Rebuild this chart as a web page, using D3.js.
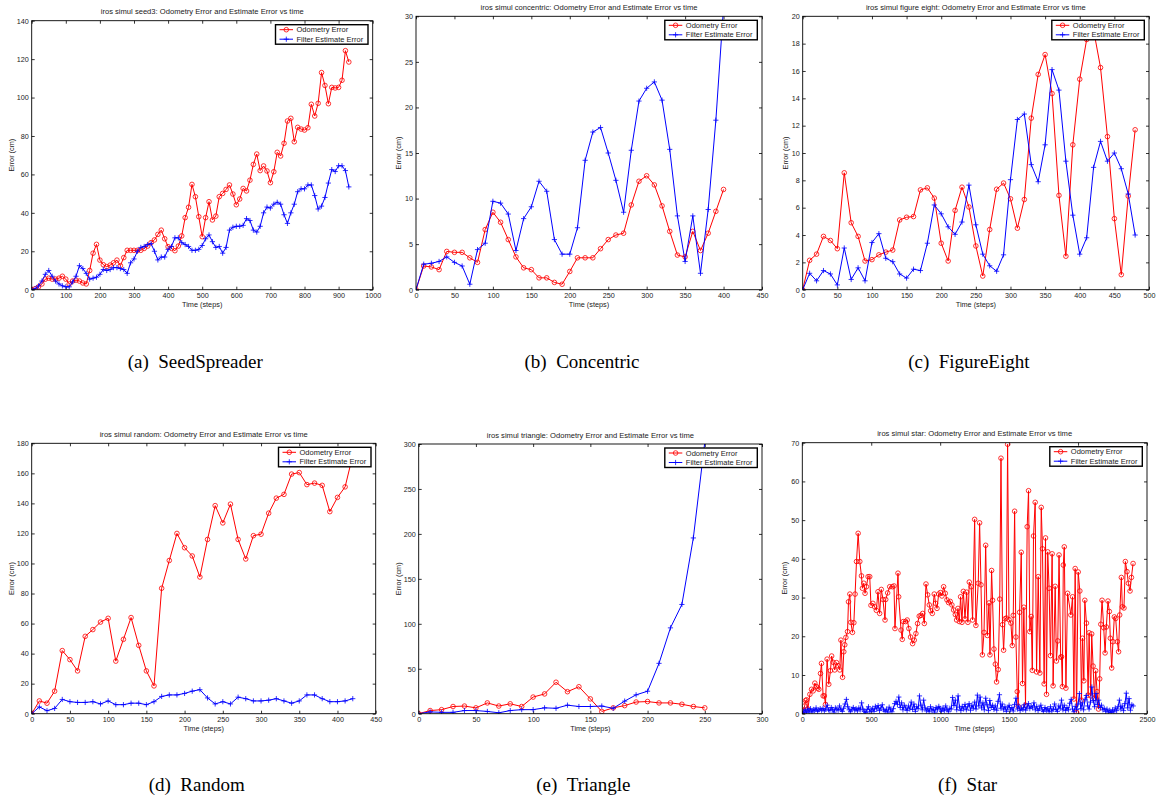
<!DOCTYPE html>
<html>
<head>
<meta charset="utf-8">
<script src="https://cdn.jsdelivr.net/npm/d3@7"></script>
<style>
  body { margin: 0; background: #fff; }
  svg { display: block; }
  .tick line { stroke: #000; stroke-width: 0.8; }
  .tick text { font-family: "Liberation Sans", Arial, sans-serif; font-size: 7.2px; fill: #222; }
  .lbl { font-family: "Liberation Sans", Arial, sans-serif; font-size: 7.3px; fill: #222; }
  .ttl { font-family: "Liberation Sans", Arial, sans-serif; font-size: 7.6px; fill: #222; }
  .cap { font-family: "Liberation Serif", "Times New Roman", serif; font-size: 19px; fill: #000; }
</style>
</head>
<body>
<svg width="1159" height="797"></svg>
<script>
// values sampled every 10 steps unless given as [time, value]
const seedOdo = [0,0.5,1.5,3,5.5,6,5.5,5.5,6,7,
  5.5,3,4.5,5,4.5,3.5,3,10,19,23.6,
  15.4,13,12,12.8,14,15.4,12.5,16.7,20.5,20.5,
  20.5,20.5,20.5,21.5,22.7,24.5,25.9,28.8,31,26.5,
  22.4,21.5,20.3,22.7,28,37.5,42.9,54.8,48.4,38,
  27.6,37.5,45.8,36.3,38.3,48.4,50.1,52.2,54.5,49.8,
  44.2,47.2,52.7,51.4,57,65.2,70.6,62,64.4,61.8,
  55.7,61.4,71.5,69.6,76.2,87.8,89.2,77,84.5,83.6,
  83.1,84.3,96.5,90.4,97,113,106.3,96.8,105.3,105,
  105.3,109,124.4,118.5]
const seedFilt = [0,0.5,2,4.5,8,10,7,4.5,3,2,
  1.5,1.5,4,7,12.5,11,8.5,5.5,6,6.5,
  8,10.5,10,10.5,11.5,11.5,11,10.5,8.5,14,
  16,20,22,22.5,23.5,24,20,15.5,17,17,
  21,22.5,27,27,24.5,23.5,22.5,20.5,20.5,21,
  23,26.5,28.5,25,22,22.5,19,22,31,32.5,
  33,33,33.5,37,36,31,30,33,40,43,
  42.5,44.5,45.5,44.5,39,34.5,40,44.5,51,52.5,
  52.5,54.5,54.5,49,42,43.5,48,55.5,62.5,61.5,
  64.5,64.5,62,53.5]

const concOdo = [0,2.6,2.5,2.2,4.2,4.1,4.1,3.5,3.0,6.6,
  8.5,7.4,5.5,3.6,2.4,2.2,1.3,1.3,0.8,0.6,
  2.0,3.5,3.5,3.5,4.5,5.5,6.0,6.2,9.3,11.9,
  12.5,11.5,9.2,6.4,3.8,3.6,6.4,4.3,6.2,8.6,
  11.0]
const concFilt = [0,2.8,2.9,3.1,3.6,3.0,2.6,0.6,4.4,5.1,
  9.7,9.5,8.3,4.3,7.8,9.1,11.9,10.8,5.5,3.9,
  3.9,6.8,14.2,17.3,17.8,15.0,12.0,8.5,15.3,20.7,
  22.1,22.8,20.8,15.4,8.1,3.1,8.1,1.8,8.8,18.6,
  31]

const eightOdo = [0,2.15,2.6,3.9,3.6,3.0,8.55,4.9,3.9,2.1,
  2.2,2.55,2.75,2.9,5.1,5.3,5.35,7.3,7.45,6.7,
  3.4,2.1,5.8,7.5,6.05,3.2,1.0,4.4,7.35,7.8,
  6.65,4.5,6.6,12.55,15.75,17.2,14.35,6.9,2.45,10.6,
  15.4,18.3,19,16.25,11.2,5.2,1.1,6.85,11.7]
const eightFilt = [0,1.2,0.65,1.4,1.15,0.35,3.05,0.75,1.6,0.65,
  3.45,4.1,2.3,2.05,1.15,0.85,1.5,1.4,3.4,6.2,
  5.55,4.6,4.05,4.95,7.65,4.75,2.6,1.75,1.35,2.55,
  8.05,12.45,12.85,9.15,7.9,10.6,16.1,14.6,9.4,5.45,
  2.6,3.8,8.95,10.85,9.4,10.0,8.85,7.0,4.0]

const randOdo = [0,8.5,7,15,42,36,28.5,51.5,56,61,
  63.5,35,49.5,64,45.5,28.5,18.5,83.5,102,120,
  110.5,105,91,116,138.5,127,139.5,116,103,118.5,
  119.5,133.5,143.5,146,159.5,160.5,152.5,153.5,152,134.5,
  144,151,172]
const randFilt = [0,4.5,2,3.5,9.5,8,7.5,7.5,8,6.5,
  8.5,6,6,7,7,6,8,11.5,12.5,12.5,
  13.5,15,16,10.5,6.5,8,6.5,11,10,8.5,
  8.5,9,10,8.5,7,8.5,12.5,12.5,10,8,
  8,8.5,10]

const triOdo = [0,3.5,4.5,8,8.5,6.5,12,8.5,11,8,
  18.5,22,35,24.5,30,16.5,2.5,6.5,9,13,
  13.5,12,12,10.5,8,6.5]
const triFilt = [0,2,1.5,1.5,3.5,3.5,2.5,1,3.5,4.5,
  4.5,6.5,6,9.5,8,8,8.5,6,14,21,
  25,56,95.5,121.5,195.5,302]

const starOdo = [[0,0],[7,0.8],[17,2],[24,3.4],[31,3.6],[40,1.2],[55,5],[67,6.3],[79,5.9],[91,7.9],
  [103,7],[112,6.6],[120,6.3],[132,10.4],[139,13],[151,4.6],[160,4.6],[168,2.4],[180,14.1],[192,7.6],
  [204,11.1],[213,14.9],[223,13.3],[235,11.3],[248,13.2],[260,12.4],[272,11.3],[280,19],[292,9.4],[301,16],
  [308,17.8],[316,19.7],[328,21.2],[335,28.9],[345,30.9],[352,23.6],[364,21],[374,23.5],[383,30.9],[393,39.3],
  [405,46.6],[417,39.3],[429,35.6],[436,32.4],[446,33.7],[455,31.1],[465,32.8],[477,35.4],[489,35.4],[498,28],
  [512,28.5],[525,27.6],[537,26.7],[549,31.5],[561,25.9],[573,32.1],[585,29.5],[600,24.2],[605,29.5],[619,31.2],
  [634,32.8],[653,32.8],[665,33],[672,22],[694,36.3],[699,30.2],[716,21.6],[725,19.2],[732,23.8],[749,23.8],
  [761,24.2],[773,22],[785,19.8],[800,18.1],[812,19],[824,20.7],[836,23.3],[848,25.2],[861,25.4],[873,25.9],
  [885,23.3],[897,33.5],[909,30.7],[921,28.1],[931,26.6],[943,25.9],[957,30.9],[967,28.5],[977,27.2],[989,30.9],
  [1001,31.3],[1013,30.4],[1025,32.8],[1037,31.1],[1049,29.4],[1061,28.7],[1073,29],[1085,28.1],[1097,26.8],[1110,25.6],
  [1119,24.2],[1129,27.2],[1139,23.8],[1148,30.2],[1158,23.6],[1168,31.6],[1180,24.5],[1192,31.4],[1201,23.6],[1211,34],
  [1225,32.8],[1235,24.2],[1250,50.2],[1259,22.8],[1276,33.7],[1286,49.3],[1296,33.3],[1306,15.2],[1318,21],[1330,43.5],
  [1342,20.2],[1354,28.6],[1361,15.2],[1373,37],[1380,29.3],[1390,16.7],[1400,12.8],[1409,8.2],[1421,11.4],[1432,29.6],
  [1441,66],[1452,23],[1460,16.4],[1470,24.5],[1480,24.7],[1489,69.6],[1499,24.3],[1513,23.4],[1523,17.6],[1530,25.4],
  [1540,52.3],[1549,19.8],[1559,5.7],[1566,1.9],[1576,26.2],[1588,41.7],[1597,7.8],[1607,27.5],[1619,2.2],[1631,48.3],
  [1641,57.6],[1650,21.2],[1660,25.1],[1668,11.2],[1677,45.9],[1689,54.6],[1699,10.8],[1711,35.4],[1723,10.5],[1733,53.3],
  [1742,42.6],[1754,7.7],[1764,45.4],[1771,5],[1780,41.8],[1790,32.4],[1800,15],[1812,41.3],[1819,7.2],[1834,32.9],
  [1843,13.6],[1853,18.8],[1862,41],[1874,14.6],[1880,14.7],[1886,7],[1893,38.4],[1900,43.1],[1912,6.6],[1924,31.1],
  [1948,25.5],[1960,30.2],[1970,3.8],[1979,37.5],[1989,0.3],[2001,36.6],[2013,31.7],[2025,3.5],[2032,19.5],[2042,8.5],
  [2049,29.3],[2061,23.4],[2073,4.8],[2080,20.9],[2092,4.6],[2099,20.6],[2109,12.3],[2119,4],[2128,11.1],[2138,5.7],
  [2148,1.2],[2157,9],[2165,23.1],[2174,29.3],[2186,22.2],[2196,15.7],[2205,22.4],[2217,29.1],[2227,26.4],[2234,19.5],
  [2244,11.8],[2253,18.6],[2263,25],[2273,24.6],[2285,18.6],[2294,16],[2302,25.5],[2314,35.2],[2321,27.6],[2333,27.3],
  [2343,39.3],[2355,36.7],[2365,33.7],[2377,31.7],[2387,35.2],[2399,38.8]]
const starFilt = [0,0.5,1.0,0.3,1.2,0.5,1.3,0.4,1.1,0.8,
  1.5,0.6,1.0,1.3,0.9,1.4,0.7,1.2,2.2,1.0,
  0.8,1.6,1.1,0.4,1.5,1.2,0.9,2.0,1.1,0.6,
  1.4,2.5,3.7,1.8,1.0,0.5,1.2,1.6,0.9,1.3,
  0.7,1.5,1.0,2.8,1.2,0.6,0.3,1.1,1.8,0.5,
  1.0,1.4,0.6,1.9,1.2,2.1,0.8,1.5,2.3,1.0,
  0.6,1.2,0.4,1.7,1.0,0.5,1.3,2.6,3.2,2.4,
  4.3,1.6,2.8,1.0,2.2,1.5,0.8,2.0,1.2,3.0,
  1.1,2.5,0.6,1.8,1.3,4.6,2.2,1.0,3.5,1.5,
  0.7,1.3,0.5,1.8,0.9,1.2,0.4,1.6,1.0,1.9,
  1.3,0.6,1.5,0.8,2.0,1.1,0.5,1.4,1.2,4.2,
  2.1,3.5,1.0,4.6,1.7,0.8,1.9,1.2,2.4,1.0,
  1.8,2.6,0.9,2.2,1.4,3.0,1.2,4.8,2.0,4.3,
  1.5,2.8,1.0,4.0,2.3,0.8,3.4,1.6,2.2,1.1,
  2.0,0.9,3.2,4.9,1.4,2.5,1.0,1.8,0.6,1.5,
  2.2,1.0,1.6,0.7,2.4,4.0,1.2,2.0,0.8,1.5,
  1.1,2.3,0.9,1.7,2.6,1.3,2.0,1.5,2.8,1.0,
  1.9,0.8,1.4,2.2,1.0,0.6,1.6,0.9,1.3,0.5,
  1.8,0.7,1.2,2.5,1.1,0.6,2.0,1.4,3.5,1.0,
  2.2,0.8,1.6,1.0,2.7,3.7,1.2,0.5,1.9,1.1,
  2.5,5.2,1.3,2.8,1.0,3.6,4.7,2.0,1.2,3.0,
  6.9,3.4,1.8,5.2,2.4,3.5,1.6,2.2,1.0,1.4,
  0.6,1.2,0.4,0.9,0.3,1.0,0.5,1.5,0.8,1.8,
  3.5,1.2,2.0,0.8,2.6,5.3,1.5,3.9,0.9,2.3,
  2.0]

const legendLabels = ['Odometry Error', 'Filter Estimate Error']
const step = 10
const withTime = vals => vals.map((v, i) => [i * step, v])

const panels = [
  {name: 'seed3', caption: 'SeedSpreader', tag: '(a)', L: 31.7, R: 372.7, T: 20.7, B: 289.7,
   xMax: 1000, xStep: 100, yMax: 140, yStep: 20, odo: withTime(seedOdo), filt: withTime(seedFilt)},
  {name: 'concentric', caption: 'Concentric', tag: '(b)', L: 416, R: 762, T: 16.3, B: 289.7,
   xMax: 450, xStep: 50, yMax: 30, yStep: 5, odo: withTime(concOdo), filt: withTime(concFilt)},
  {name: 'figure eight', caption: 'FigureEight', tag: '(c)', L: 802.7, R: 1149, T: 16.3, B: 289.7,
   xMax: 500, xStep: 50, yMax: 20, yStep: 2, odo: withTime(eightOdo), filt: withTime(eightFilt)},
  {name: 'random', caption: 'Random', tag: '(d)', L: 31.7, R: 375.7, T: 443.3, B: 713.7,
   xMax: 450, xStep: 50, yMax: 180, yStep: 20, odo: withTime(randOdo), filt: withTime(randFilt)},
  {name: 'triangle', caption: 'Triangle', tag: '(e)', L: 418.7, R: 762, T: 444, B: 713.7,
   xMax: 300, xStep: 50, yMax: 300, yStep: 50, odo: withTime(triOdo), filt: withTime(triFilt)},
  {name: 'star', caption: 'Star', tag: '(f)', L: 802.3, R: 1147, T: 442.7, B: 713.7,
   xMax: 2500, xStep: 500, yMax: 70, yStep: 10, odo: starOdo, filt: withTime(starFilt)}
]

const svg = d3.select('svg')
const RED = '#ff0000', BLUE = '#0000ff'
const plus = 'M-2.6,0H2.6M0,-2.6V2.6'

const drawPanel = (p, i) => {
  const x = d3.scaleLinear().domain([0, p.xMax]).range([p.L, p.R])
  const y = d3.scaleLinear().domain([0, p.yMax]).range([p.B, p.T])
  const xt = d3.range(0, p.xMax + p.xStep / 2, p.xStep)
  const yt = d3.range(0, p.yMax + p.yStep / 2, p.yStep)
  const g = svg.append('g')

  g.append('clipPath').attr('id', 'clip' + i)
    .append('rect').attr('x', p.L).attr('y', p.T).attr('width', p.R - p.L).attr('height', p.B - p.T)

  const axes = [
    [d3.axisBottom(x).tickValues(xt), `translate(0,${p.B})`, true],
    [d3.axisTop(x).tickValues(xt), `translate(0,${p.T})`, false],
    [d3.axisLeft(y).tickValues(yt), `translate(${p.L},0)`, true],
    [d3.axisRight(y).tickValues(yt), `translate(${p.R},0)`, false]
  ]
  axes.forEach(([ax, tr, labels]) => {
    ax.tickSizeInner(-3).tickSizeOuter(0).tickPadding(3)
      .tickFormat(labels ? d3.format('d') : () => '')
    const a = g.append('g').attr('transform', tr).call(ax)
    a.select('.domain').remove()
  })

  const plot = g.append('g').attr('clip-path', `url(#clip${i})`)
  const line = d3.line().x(d => x(d[0])).y(d => y(d[1]))

  plot.append('path').datum(p.odo).attr('d', line)
    .attr('fill', 'none').attr('stroke', RED).attr('stroke-width', 1)
  plot.selectAll('circle').data(p.odo).enter().append('circle')
    .attr('cx', d => x(d[0])).attr('cy', d => y(d[1])).attr('r', 2.3)
    .attr('fill', 'none').attr('stroke', RED).attr('stroke-width', 0.8)

  plot.append('path').datum(p.filt).attr('d', line)
    .attr('fill', 'none').attr('stroke', BLUE).attr('stroke-width', 1)
  plot.selectAll('path.mk').data(p.filt).enter().append('path').attr('class', 'mk')
    .attr('transform', d => `translate(${x(d[0])},${y(d[1])})`).attr('d', plus)
    .attr('fill', 'none').attr('stroke', BLUE).attr('stroke-width', 0.8)

  g.append('rect').attr('x', p.L).attr('y', p.T).attr('width', p.R - p.L).attr('height', p.B - p.T)
    .attr('fill', 'none').attr('stroke', '#000').attr('stroke-width', 0.9)

  // legend
  const lw = 92.5, lh = 19.5
  const lx = p.R - 4.7 - lw, ly = p.T + 4
  const lg = g.append('g').attr('transform', `translate(${lx},${ly})`)
  lg.append('rect').attr('width', lw).attr('height', lh)
    .attr('fill', '#fff').attr('stroke', '#000').attr('stroke-width', 1.4)
  legendLabels.forEach((t, k) => {
    const cy = 5 + k * 9.5
    const col = k === 0 ? RED : BLUE
    lg.append('line').attr('x1', 4).attr('x2', 17.5).attr('y1', cy).attr('y2', cy)
      .attr('stroke', col).attr('stroke-width', 1)
    if (k === 0) {
      lg.append('circle').attr('cx', 10.8).attr('cy', cy).attr('r', 2.3)
        .attr('fill', 'none').attr('stroke', col).attr('stroke-width', 0.8)
    } else {
      lg.append('path').attr('transform', `translate(10.8,${cy})`).attr('d', plus)
        .attr('fill', 'none').attr('stroke', col).attr('stroke-width', 0.8)
    }
    lg.append('text').attr('class', 'lbl').attr('x', 21).attr('y', cy).attr('dy', '0.35em')
      .style('font-size', '7.5px').text(t)
  })

  const cx = (p.L + p.R) / 2
  g.append('text').attr('class', 'ttl').attr('x', cx).attr('y', p.T - 6.5)
    .attr('text-anchor', 'middle')
    .text(`iros simul ${p.name}: Odometry Error and Estimate Error vs time`)
  g.append('text').attr('class', 'lbl').attr('x', cx).attr('y', p.B + 17.3)
    .attr('text-anchor', 'middle').text('Time (steps)')
  const digits = String(p.yMax).length
  g.append('text').attr('class', 'lbl')
    .attr('transform', `translate(${p.L - 11 - digits * 3.2},${(p.T + p.B) / 2}) rotate(-90)`)
    .attr('dy', '0.35em').attr('text-anchor', 'middle').text('Error (cm)')

  const capY = p.B < 400 ? 368 : 791
  g.append('text').attr('class', 'cap').attr('x', cx - 7).attr('y', capY)
    .attr('text-anchor', 'middle').attr('xml:space', 'preserve')
    .text(`${p.tag}\u00a0\u00a0${p.caption}`)
}

panels.forEach(drawPanel)
</script>
</body>
</html>
